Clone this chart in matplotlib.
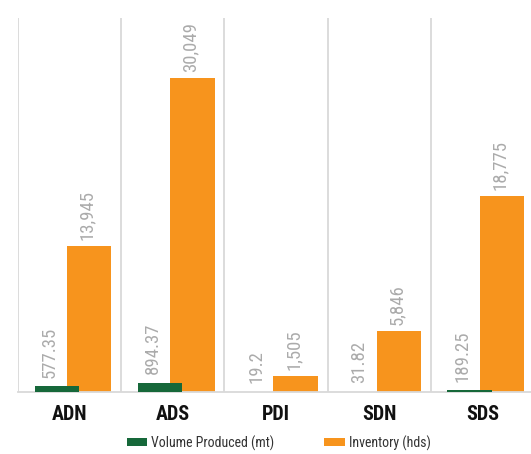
import matplotlib
matplotlib.use("Agg")
import matplotlib.pyplot as plt
import numpy as np

categories = ["ADN", "ADS", "PDI", "SDN", "SDS"]
volume_mt = [577.35, 894.37, 19.2, 31.82, 189.25]
inventory_hds = [13945, 30049, 1505, 5846, 18775]
volume_labels = ["577.35", "894.37", "19.2", "31.82", "189.25"]
inventory_labels = ["13,945", "30,049", "1,505", "5,846", "18,775"]

FONT = ["Roboto Condensed", "Liberation Sans", "DejaVu Sans"]

GREEN = "#16683a"
ORANGE = "#f7941d"
GRID = "#d9d9d9"
LABEL = "#ababab"

fig = plt.figure(figsize=(5.31, 4.54), dpi=100)
ax = fig.add_axes([18/531, 62/454, 516/531, 374/454])

x = np.arange(len(categories))
w = 0.43
ax.bar(x + 0.19, inventory_hds, width=w, color=ORANGE, zorder=2, label="Inventory (hds)")
ax.bar(x - 0.125, volume_mt, width=w, color=GREEN, zorder=3, label="Volume Produced (mt)")

for xi, v, s in zip(x, volume_mt, volume_labels):
    ax.annotate(s, (xi - 0.19, v), xytext=(0, 6), textcoords="offset points",
                rotation=90, ha="center", va="bottom", color=LABEL,
                fontsize=13.5, family=FONT)
for xi, v, s in zip(x, inventory_hds, inventory_labels):
    ax.annotate(s, (xi + 0.17, v), xytext=(0, 4.5), textcoords="offset points",
                rotation=90, ha="center", va="bottom", color=LABEL,
                fontsize=13.5, family=FONT)

ax.set_xlim(-0.5, 4.5)
ax.set_ylim(0, 35800)
for b in np.arange(-0.5, 5, 1):
    ax.axvline(b, color=GRID, lw=1.3, zorder=1)
for s in ["top", "right", "left"]:
    ax.spines[s].set_visible(False)
ax.spines["bottom"].set_color(GRID)
ax.spines["bottom"].set_linewidth(1.3)
ax.set_yticks([])
ax.set_xticks(x)
ax.set_xticklabels(categories, fontsize=14.5, fontweight="bold", family=FONT, color="#111111")
ax.tick_params(axis="x", length=0, pad=9)

handles, labels = ax.get_legend_handles_labels()
leg = fig.legend(handles[::-1], labels[::-1], loc="center", bbox_to_anchor=(0.525, 0.024),
                 ncol=2, frameon=False, prop={"family": FONT, "size": 10},
                 handlelength=1.45, handleheight=0.5, handletextpad=0.3, columnspacing=3.6)
for t in leg.get_texts():
    t.set_color("#333333")

fig.savefig("out.png", dpi=100)
